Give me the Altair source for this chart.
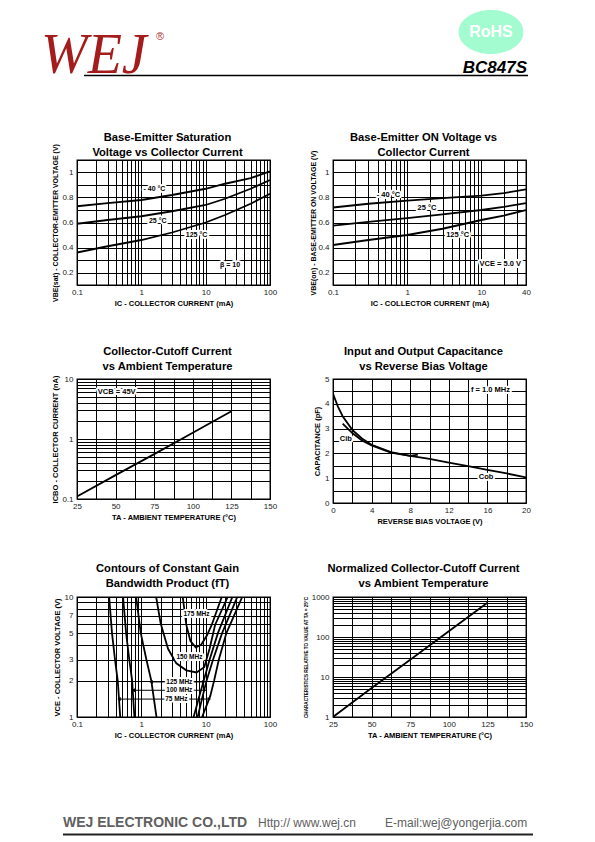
import altair as alt
import pandas as pd

FONT = "Liberation Sans"
INK = "black"

# ============================ data ============================
# header / footer texts
header_logo = "WEJ"
header_reg = "®"
header_badge = "RoHS"
header_part = "BC847S"
footer_company = "WEJ ELECTRONIC CO.,LTD"
footer_web = "Http:// www.wej.cn"
footer_mail = "E-mail:wej@yongerjia.com"

# 1) Base-Emitter Saturation Voltage vs Collector Current (beta = 10)
p1_title = ["Base-Emitter Saturation", "Voltage vs Collector Current"]
p1_ic = [0.1, 0.3, 1, 3, 10, 20, 50, 100]
p1_m40 = [0.73, 0.755, 0.78, 0.82, 0.87, 0.91, 0.955, 1.01]
p1_25 = [0.59, 0.62, 0.65, 0.69, 0.74, 0.79, 0.87, 0.94]
p1_125 = [0.36, 0.41, 0.46, 0.52, 0.60, 0.66, 0.75, 0.83]
p1_note = ["- 40 °C", "25 °C", "125 °C", "β = 10"]
p1_note_x = [1.6, 1.8, 7.2, 24]
p1_note_y = [0.87, 0.615, 0.50, 0.26]

# 2) Base-Emitter ON Voltage vs Collector Current (VCE = 5 V)
p2_title = ["Base-Emitter ON Voltage vs", "Collector Current"]
p2_ic = [0.1, 0.3, 1, 3, 10, 20, 40]
p2_m40 = [0.72, 0.75, 0.775, 0.795, 0.815, 0.835, 0.865]
p2_25 = [0.575, 0.605, 0.635, 0.665, 0.70, 0.725, 0.755]
p2_125 = [0.42, 0.46, 0.50, 0.55, 0.62, 0.655, 0.70]
p2_note = ["- 40 °C", "25 °C", "125 °C", "VCE = 5.0 V"]
p2_note_x = [0.56, 1.85, 4.8, 18]
p2_note_y = [0.82, 0.715, 0.50, 0.265]

# 3) Collector-Cutoff Current vs Ambient Temperature
p3_title = ["Collector-Cutoff Current", "vs Ambient Temperature"]
p3_ta = [25, 50, 75, 100, 125]
p3_icbo = [0.11, 0.25, 0.56, 1.27, 2.9]
p3_note = ["VCB = 45V"]
p3_note_x = [38.5]
p3_note_y = [6.1]

# 4) Input and Output Capacitance vs Reverse Bias Voltage
p4_title = ["Input and Output Capacitance", "vs Reverse Bias Voltage"]
p4_cob_v = [0, 0.5, 1, 2, 3, 4, 6, 8, 10, 12, 14, 16, 18, 20]
p4_cob_c = [4.4, 3.9, 3.5, 2.95, 2.6, 2.35, 2.05, 1.9, 1.78, 1.63, 1.49, 1.34, 1.19, 1.03]
p4_cib_v = [1, 2, 3, 4, 6, 8, 8.8]
p4_cib_c = [3.2, 2.82, 2.52, 2.32, 2.03, 1.9, 1.95]
p4_note = ["Cib", "Cob", "f = 1.0 MHz"]
p4_note_x = [0.7, 15.1, 14.3]
p4_note_y = [2.6, 1.06, 4.56]

# 5) Contours of Constant Gain Bandwidth Product (fT)
p5_title = ["Contours of Constant Gain", "Bandwidth Product (fT)"]
p5_left_v = [10, 5, 3, 2, 1]
p5_75_left_ic = [0.316, 0.35, 0.39, 0.43, 0.47]
p5_100_left_ic = [0.52, 0.58, 0.65, 0.72, 0.78]
p5_125_left_ic = [0.83, 0.98, 1.2, 1.43, 1.72]
p5_right_v = [1, 1.5, 2, 3, 5, 10]
p5_75_right_ic = [8.8, 11.8, 13.5, 16, 21, 37]
p5_100_right_ic = [7.5, 9.0, 10.3, 13, 18, 31]
p5_125_right_ic = [6.5, 8.0, 9.3, 11.5, 15.5, 26]
p5_150_ic = [1.7, 2.0, 2.6, 3.5, 5.0, 7.2, 9.5, 11.5, 14, 22]
p5_150_v = [10, 6, 3.7, 2.8, 2.45, 2.35, 2.6, 3.7, 5.85, 10]
p5_175_ic = [4.4, 5.0, 5.8, 7.0, 8.5, 10.5, 12.4, 17.8]
p5_175_v = [10, 5.85, 4.3, 3.8, 4.0, 4.8, 5.85, 10]
p5_note = ["175 MHz", "150 MHz", "125 MHz", "100 MHz", "75 MHz"]
p5_note_x = [7.2, 5.6, 3.9, 3.9, 3.5]
p5_note_y = [7.2, 3.16, 1.96, 1.67, 1.41]
p5_arrow_v = [1.96, 1.67, 1.41]
p5_arrow_left = [1.42, 0.75, 0.45]
p5_arrow_right = [9.3, 9.7, 11.4]

# 6) Normalized Collector-Cutoff Current vs Ambient Temperature
p6_title = ["Normalized Collector-Cutoff Current", "vs Ambient Temperature"]
p6_ta = [25, 50, 75, 100, 125]
p6_norm = [1, 5.3, 27, 140, 720]

# tick labels
ic_ticks = [0.1, 1, 10, 100]
ic_ticks_txt = ["0.1", "1", "10", "100"]
ic40_ticks = [0.1, 1, 10, 40]
ic40_ticks_txt = ["0.1", "1", "10", "40"]
v_ticks = [0.2, 0.4, 0.6, 0.8, 1]
v_ticks_txt = ["0.2", "0.4", "0.6", "0.8", "1"]
ta_ticks = [25, 50, 75, 100, 125, 150]
ta_ticks_txt = ["25", "50", "75", "100", "125", "150"]
icbo_ticks = [0.1, 1, 10]
icbo_ticks_txt = ["0.1", "1", "10"]
vr_ticks = [0, 4, 8, 12, 16, 20]
vr_ticks_txt = ["0", "4", "8", "12", "16", "20"]
cap_ticks = [0, 1, 2, 3, 4, 5]
cap_ticks_txt = ["0", "1", "2", "3", "4", "5"]
vce_ticks = [1, 2, 3, 5, 7, 10]
vce_ticks_txt = ["1", "2", "3", "5", "7", "10"]
norm_ticks = [1, 10, 100, 1000]
norm_ticks_txt = ["1", "10", "100", "1000"]


# ============================ helpers ============================
def lexpr(vals, texts):
    e = "''"
    for v, t in reversed(list(zip(vals, texts))):
        e = f"(datum.value == {v} ? '{t}' : {e})"
    return e


def log_grid(lo_exp, hi_exp):
    vals = [round(m * 10.0 ** e, 6) for e in range(lo_exp, hi_exp) for m in range(1, 10)]
    return vals + [round(10.0 ** hi_exp, 6)]


def lin_grid(lo, hi, step):
    n = int(round((hi - lo) / step))
    return [round(lo + i * step, 6) for i in range(n + 1)]


def x_axis(title, grid, lab, lab_txt, size=7.5):
    return alt.Axis(title=title, values=grid, labelExpr=lexpr(lab, lab_txt), grid=True,
                    gridColor=INK, gridWidth=1, gridOpacity=1, ticks=False, domain=False,
                    labelFont=FONT, labelFontSize=8, labelColor="#222", labelPadding=3,
                    labelFlush=False, labelOverlap=False,
                    titleFont=FONT, titleFontSize=size, titleFontWeight="bold", titleColor=INK,
                    titleY=18, titleBaseline="middle")


def y_axis(title, grid, lab, lab_txt, tx=-22, size=7.5):
    return alt.Axis(title=title, values=grid, labelExpr=lexpr(lab, lab_txt), grid=True,
                    gridColor=INK, gridWidth=1, gridOpacity=1, ticks=False, domain=False,
                    labelFont=FONT, labelFontSize=8, labelColor="#222", labelPadding=4,
                    labelFlush=False, labelOverlap=False,
                    titleFont=FONT, titleFontSize=size, titleFontWeight="bold", titleColor=INK,
                    titleX=tx, titleBaseline="middle", titleAngle=270)


def series_df(xs_list, ys_list, names):
    rows = []
    for xs, ys, n in zip(xs_list, ys_list, names):
        for i, (x, y) in enumerate(zip(xs, ys)):
            rows.append({"x": x, "y": y, "s": n, "o": i})
    return pd.DataFrame(rows)


def lines(df, X, Y, w=1.8):
    return alt.Chart(df).mark_line(color=INK, strokeWidth=w, clip=True).encode(
        x=X, y=Y, detail="s:N", order="o:Q")


def notes(tx, xs, ys, X, Y, size=7, align="center"):
    df = pd.DataFrame({"x": xs, "y": ys, "t": tx})
    base = alt.Chart(df).encode(x=X, y=Y, text="t:N")
    halo = base.mark_text(font=FONT, fontSize=size, fontWeight="bold", color="white",
                          stroke="white", strokeWidth=4, strokeJoin="round", align=align,
                          baseline="middle")
    txt = base.mark_text(font=FONT, fontSize=size, fontWeight="bold", color=INK, align=align,
                         baseline="middle")
    return [halo, txt]


def panel(layers, w, h, title, off):
    return alt.layer(*layers).properties(
        width=w, height=h,
        title=alt.TitleParams(text=title, font=FONT, fontSize=11.2, fontWeight="bold", color=INK,
                              anchor="middle", frame="group", baseline="bottom", offset=off,
                              lineHeight=15, dx=-6))


def deco_text(txt, x, y, **kw):
    return alt.Chart(alt.Data(values=[{"t": txt}])).mark_text(**kw).encode(
        x=alt.value(x), y=alt.value(y), text="t:N")


one = alt.Data(values=[{"k": 0}])
WL, WR = 193, 193
NOSTROKE = alt.ViewBackground(strokeOpacity=0)

# ============================ panel 1 ============================
X1 = alt.X("x:Q", scale=alt.Scale(type="log", domain=[0.1, 100], nice=False),
           axis=x_axis("IC - COLLECTOR CURRENT  (mA)", log_grid(-1, 2), ic_ticks, ic_ticks_txt))
Y1 = alt.Y("y:Q", scale=alt.Scale(domain=[0.1, 1.1], nice=False, zero=False),
           axis=y_axis("VBE(sat) - COLLECTOR-EMITTER VOLTAGE (V)", lin_grid(0.1, 1.1, 0.1),
                       v_ticks, v_ticks_txt, tx=-22, size=7))
d1 = series_df([p1_ic] * 3, [p1_m40, p1_25, p1_125], ["-40", "25", "125"])
c1 = panel([lines(d1, X1, Y1)] + notes(p1_note, p1_note_x, p1_note_y, X1, Y1),
           WL, 125, p1_title, -25.5)

# ============================ panel 2 ============================
X2 = alt.X("x:Q", scale=alt.Scale(type="log", domain=[0.1, 40], nice=False),
           axis=x_axis("IC - COLLECTOR CURRENT  (mA)", log_grid(-1, 1) + [20, 30, 40],
                       ic40_ticks, ic40_ticks_txt))
Y2 = alt.Y("y:Q", scale=alt.Scale(domain=[0.1, 1.1], nice=False, zero=False),
           axis=y_axis("VBE(on) - BASE-EMITTER ON VOLTAGE (V)", lin_grid(0.1, 1.1, 0.1),
                       v_ticks, v_ticks_txt, tx=-20, size=7))
d2 = series_df([p2_ic] * 3, [p2_m40, p2_25, p2_125], ["-40", "25", "125"])
c2 = panel([lines(d2, X2, Y2)] + notes(p2_note, p2_note_x, p2_note_y, X2, Y2, size=7.5),
           WR, 125, p2_title, -19)

# ============================ panel 3 ============================
X3 = alt.X("x:Q", scale=alt.Scale(domain=[25, 150], nice=False, zero=False),
           axis=x_axis("TA - AMBIENT TEMPERATURE (°C)", lin_grid(25, 150, 12.5),
                       ta_ticks, ta_ticks_txt))
Y3 = alt.Y("y:Q", scale=alt.Scale(type="log", domain=[0.1, 10], nice=False),
           axis=y_axis("ICBO - COLLECTOR CURRENT (nA)", log_grid(-1, 1),
                       icbo_ticks, icbo_ticks_txt, tx=-22))
d3 = series_df([p3_ta], [p3_icbo], ["icbo"])
c3 = panel([lines(d3, X3, Y3)] + notes(p3_note, p3_note_x, p3_note_y, X3, Y3, size=7.5,
                                        align="left"),
           WL, 120, p3_title, -8.5)

# ============================ panel 4 ============================
X4 = alt.X("x:Q", scale=alt.Scale(domain=[0, 20], nice=False, zero=False),
           axis=x_axis("REVERSE BIAS VOLTAGE (V)", lin_grid(0, 20, 2), vr_ticks, vr_ticks_txt))
Y4 = alt.Y("y:Q", scale=alt.Scale(domain=[0, 5], nice=False, zero=False),
           axis=y_axis("CAPACITANCE (pF)", lin_grid(0, 5, 0.5), cap_ticks, cap_ticks_txt,
                       tx=-16))
d4 = series_df([p4_cob_v, p4_cib_v], [p4_cob_c, p4_cib_c], ["cob", "cib"])
c4 = panel([lines(d4, X4, Y4)] + notes(p4_note, p4_note_x, p4_note_y, X4, Y4, size=7.5,
                                        align="left"),
           WR, 124, p4_title, -8)

# ============================ panel 5 ============================
X5 = alt.X("x:Q", scale=alt.Scale(type="log", domain=[0.1, 100], nice=False),
           axis=x_axis("IC - COLLECTOR CURRENT  (mA)", log_grid(-1, 2), ic_ticks, ic_ticks_txt))
Y5 = alt.Y("y:Q", scale=alt.Scale(type="log", domain=[1, 10], nice=False),
           axis=y_axis("VCE - COLLECTOR VOLTAGE (V)", log_grid(0, 1), vce_ticks, vce_ticks_txt,
                       tx=-20))
d5 = series_df(
    [p5_75_left_ic, p5_100_left_ic, p5_125_left_ic,
     p5_75_right_ic, p5_100_right_ic, p5_125_right_ic, p5_150_ic, p5_175_ic],
    [p5_left_v, p5_left_v, p5_left_v, p5_right_v, p5_right_v, p5_right_v, p5_150_v, p5_175_v],
    ["75L", "100L", "125L", "75R", "100R", "125R", "150", "175"])
arr = pd.DataFrame({"x": p5_arrow_left, "x2": p5_arrow_right, "y": p5_arrow_v})
arrow_rules = alt.Chart(arr).mark_rule(color=INK, strokeWidth=1).encode(x=X5, x2="x2:Q", y=Y5)
heads_l = alt.Chart(pd.DataFrame({"x": p5_arrow_left, "y": p5_arrow_v})).mark_point(
    shape="triangle-left", filled=True, color=INK, size=16, opacity=1).encode(x=X5, y=Y5)
heads_r = alt.Chart(pd.DataFrame({"x": p5_arrow_right, "y": p5_arrow_v})).mark_point(
    shape="triangle-right", filled=True, color=INK, size=16, opacity=1).encode(x=X5, y=Y5)
c5 = panel([lines(d5, X5, Y5), arrow_rules, heads_l, heads_r]
           + notes(p5_note, p5_note_x, p5_note_y, X5, Y5, size=6.5),
           WL, 120, p5_title, -7.5)

# ============================ panel 6 ============================
X6 = alt.X("x:Q", scale=alt.Scale(domain=[25, 150], nice=False, zero=False),
           axis=x_axis("TA - AMBIENT TEMPERATURE (°C)", lin_grid(25, 150, 12.5),
                       ta_ticks, ta_ticks_txt))
Y6 = alt.Y("y:Q", scale=alt.Scale(type="log", domain=[1, 1000], nice=False),
           axis=y_axis("CHARACTERISTICS RELATIVE TO VALUE AT TA = 25°C", log_grid(0, 3),
                       norm_ticks, norm_ticks_txt, tx=-27, size=4.6))
d6 = series_df([p6_ta], [p6_norm], ["norm"])
c6 = panel([lines(d6, X6, Y6)], WR, 120, p6_title, -7.5)

# ============================ header / footer ============================
anchor = alt.Chart(one).mark_rule(strokeOpacity=0).encode(
    x=alt.value(-69), x2=alt.value(-69), y=alt.value(-28), y2=alt.value(-28))
logo = deco_text(header_logo, -36, 37, font="Liberation Serif", fontSize=56, fontStyle="italic",
                 color="#a51c1c", align="left", baseline="alphabetic")
reg = deco_text(header_reg, 83, 1, font=FONT, fontSize=11, color="#b03030", align="center",
                baseline="middle")
head_line = alt.Chart(one).mark_rule(color=INK, strokeWidth=1.3).encode(
    x=alt.value(7), x2=alt.value(451), y=alt.value(39.5))
h_left = alt.layer(anchor, logo, reg, head_line).properties(width=WL, height=30, view=NOSTROKE)

ELLIPSE = "M-1,0A1,0.68,0,1,1,1,0A1,0.68,0,1,1,-1,0Z"
badge = alt.Chart(one).mark_point(shape=ELLIPSE, filled=True, color="#a3fbd0", size=4200,
                                  opacity=1, strokeWidth=0).encode(
    x=alt.value(158), y=alt.value(-4))
badge_txt = deco_text(header_badge, 158, -4, font=FONT, fontSize=16, fontWeight="bold",
                      color="white", align="center", baseline="middle")
part = deco_text(header_part, 194, 37, font=FONT, fontSize=17, fontWeight="bold",
                 fontStyle="italic", color=INK, align="right", baseline="alphabetic")
h_right = alt.layer(badge, badge_txt, part).properties(width=WR, height=30, view=NOSTROKE)

f_comp = deco_text(footer_company, -14, 16, font=FONT, fontSize=14, fontWeight="bold",
                   color="#606060", align="left", baseline="alphabetic")
f_web = deco_text(footer_web, 181, 16, font=FONT, fontSize=12, color="#606060", align="left",
                  baseline="alphabetic")
foot_line = alt.Chart(one).mark_rule(color="#222", strokeWidth=2).encode(
    x=alt.value(-14), x2=alt.value(456), y=alt.value(23.5))
f_left = alt.layer(f_comp, f_web, foot_line).properties(width=WL, height=20, view=NOSTROKE)
f_mail = deco_text(footer_mail, 52, 16, font=FONT, fontSize=12, color="#606060", align="left",
                   baseline="alphabetic")
f_right = alt.layer(f_mail).properties(width=WR, height=20, view=NOSTROKE)

# ============================ page ============================
chart = alt.concat(
    h_left, h_right, c1, c2, c3, c4, c5, c6, f_left, f_right,
    columns=2, spacing={"row": 94, "column": 63}, bounds="flush", align="each",
).properties(padding=0, background="white").configure_view(stroke=INK, strokeWidth=1.3)

chart.save("out.html", embed_options={"renderer": "svg", "actions": False})
